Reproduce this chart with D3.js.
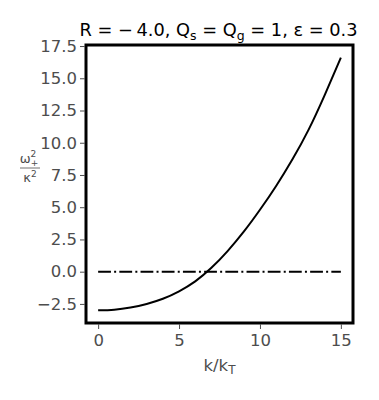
<!DOCTYPE html>
<html>
<head>
<meta charset="utf-8">
<script src="https://cdn.jsdelivr.net/npm/d3@7"></script>
<style>
  html, body { margin: 0; padding: 0; background: #fff; }
  svg { display: block; font-family: "DejaVu Sans", sans-serif; }
</style>
</head>
<body>
<svg id="chart" width="379" height="400"></svg>
<script>
// Data
const kValues = [0, 1, 2, 3, 4, 5, 6, 7, 8, 9, 10, 11, 12, 13, 14, 15];
const omegaValues = [-3.0, -2.95, -2.78, -2.5, -2.1, -1.52, -0.75, 0.3, 1.6, 3.1, 4.8, 6.65, 8.7, 11.0, 13.7, 16.6];
const zeroLineK = [0, 15];
const zeroLineValues = [0, 0];
const xTicks = [0, 5, 10, 15];
const yTicks = [-2.5, 0.0, 2.5, 5.0, 7.5, 10.0, 12.5, 15.0, 17.5];

const svg = d3.select("#chart");
const pLeft = 86, pRight = 353, pTop = 45, pBottom = 323;

// matplotlib-like 5% margins
const xMin = d3.min(kValues), xMax = d3.max(kValues);
const yMin = Math.min(d3.min(omegaValues), 0), yMax = d3.max(omegaValues);
const xPad = (xMax - xMin) * 0.05, yPad = (yMax - yMin) * 0.05;

const x = d3.scaleLinear().domain([xMin - xPad, xMax + xPad]).range([pLeft, pRight]);
const y = d3.scaleLinear().domain([yMin - yPad, yMax + yPad]).range([pBottom, pTop]);

const tickColor = "#4d4d4d";

// Zero dash-dot line
const zeroData = zeroLineK.map((k, i) => [k, zeroLineValues[i]]);
svg.append("path")
  .datum(zeroData)
  .attr("d", d3.line().x(d => x(d[0])).y(d => y(d[1])))
  .attr("fill", "none")
  .attr("stroke", "#000")
  .attr("stroke-width", 2)
  .attr("stroke-dasharray", "12.8,3.2,2,3.2");

// Curve
const curveData = kValues.map((k, i) => [k, omegaValues[i]]);
svg.append("path")
  .datum(curveData)
  .attr("d", d3.line().x(d => x(d[0])).y(d => y(d[1])).curve(d3.curveNatural))
  .attr("fill", "none")
  .attr("stroke", "#000")
  .attr("stroke-width", 2);

// Axes
const xAxis = d3.axisBottom(x).tickValues(xTicks).tickFormat(d3.format("d")).tickSize(5).tickPadding(6);
const yAxis = d3.axisLeft(y).tickValues(yTicks).tickFormat(d3.format(".1f")).tickSize(5).tickPadding(4);

const gx = svg.append("g").attr("transform", `translate(0,${pBottom})`).call(xAxis);
const gy = svg.append("g").attr("transform", `translate(${pLeft},0)`).call(yAxis);
[gx, gy].forEach(g => {
  g.select(".domain").remove();
  g.selectAll(".tick line").attr("stroke", tickColor).attr("stroke-width", 1);
  g.selectAll(".tick text").attr("fill", tickColor).attr("font-size", 16.5)
    .attr("font-family", "DejaVu Sans, sans-serif")
    .text(function() { return d3.select(this).text().replace("-", "\u2212"); });
});
gx.selectAll(".tick line").attr("y1", 1.5).attr("y2", 6);
gy.selectAll(".tick line").attr("x1", -1.5).attr("x2", -6);

// Frame
svg.append("rect")
  .attr("x", pLeft).attr("y", pTop)
  .attr("width", pRight - pLeft).attr("height", pBottom - pTop)
  .attr("fill", "none").attr("stroke", "#000").attr("stroke-width", 3);

// Title
const title = svg.append("text")
  .attr("x", (pLeft + pRight) / 2 - 1).attr("y", 36)
  .attr("text-anchor", "middle")
  .attr("font-size", 17.8).attr("fill", "#000");
title.append("tspan").text("R = \u2212\u20094.0, Q");
title.append("tspan").attr("font-size", 12.5).attr("dy", 4).text("s");
title.append("tspan").attr("dy", -4).text(" = Q");
title.append("tspan").attr("font-size", 12.5).attr("dy", 4).text("g");
title.append("tspan").attr("dy", -4).text(" = 1, \u03b5 = 0.3");

// X label
const xl = svg.append("text")
  .attr("x", (pLeft + pRight) / 2).attr("y", 371)
  .attr("text-anchor", "middle")
  .attr("font-size", 16.5).attr("fill", tickColor);
xl.append("tspan").text("k/k");
xl.append("tspan").attr("font-size", 12).attr("dy", 3).text("T");

// Y label as fraction
const fx = 30;
const num = svg.append("text").attr("x", fx - 1).attr("y", 163)
  .attr("text-anchor", "middle").attr("font-size", 13).attr("fill", tickColor);
num.append("tspan").text("\u03c9");
num.append("tspan").attr("font-size", 9).attr("dy", -6).text("2");
num.append("tspan").attr("font-size", 9).attr("dx", -5.5).attr("dy", 9).text("+");
svg.append("line").attr("x1", fx - 10).attr("x2", fx + 10)
  .attr("y1", 168).attr("y2", 168).attr("stroke", tickColor).attr("stroke-width", 0.8);
const den = svg.append("text").attr("x", fx).attr("y", 182)
  .attr("text-anchor", "middle").attr("font-size", 13).attr("fill", tickColor);
den.append("tspan").text("\u03ba");
den.append("tspan").attr("font-size", 9).attr("dy", -5).text("2");
</script>
</body>
</html>
